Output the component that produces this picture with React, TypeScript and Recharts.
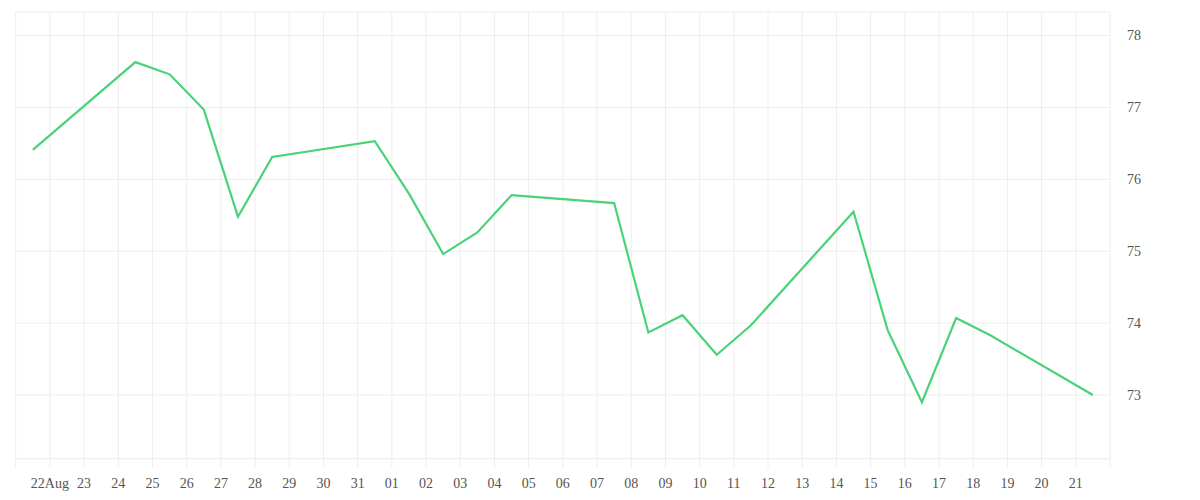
// App.tsx
// Daily line on a light grid with the price scale on the right. The x axis is a
// day index: ticks sit on the grid lines and each point falls mid-day.

import { LineChart, Line, XAxis, YAxis, CartesianGrid } from "recharts";

// position of each point, in days from the first grid line
const dayPos = [
  0.5, 3.5, 4.5, 5.5, 6.5, 7.5, 10.5, 11.5, 12.5, 13.5, 14.5, 17.5, 18.5, 19.5,
  20.5, 21.5, 24.5, 25.5, 26.5, 27.5, 28.5, 31.5,
];

const values = [
  76.41, 77.63, 77.46, 76.97, 75.48, 76.31, 76.53, 75.8, 74.96, 75.26, 75.78,
  75.67, 73.87, 74.11, 73.56, 73.97, 75.55, 73.9, 72.9, 74.07, 73.83, 73.0,
];

// one label per grid line (0..32); the two end lines have none
const xTickLabels = [
  "", "22Aug", "23", "24", "25", "26", "27", "28", "29", "30", "31",
  "01", "02", "03", "04", "05", "06", "07", "08", "09", "10", "11",
  "12", "13", "14", "15", "16", "17", "18", "19", "20", "21", "",
];

const yTicks = [73, 74, 75, 76, 77, 78];

const data = dayPos.map((d, i) => ({ d, v: values[i] }));
const xTicks = xTickLabels.map((_, i) => i);

const GRID = "#eeeeee";
const tickStyle = {
  fontSize: 14,
  fontFamily: "'Liberation Serif', serif",
  fill: "#555",
};

export default function App() {
  return (
    <div
      style={{
        position: "absolute",
        left: 0,
        top: 0,
        width: 1200,
        height: 500,
        background: "#fff",
      }}
    >
      <LineChart
        width={1200}
        height={500}
        data={data}
        margin={{ top: 12, right: 0, left: 15.7, bottom: 0 }}
      >
        <CartesianGrid stroke={GRID} strokeWidth={1} />
        <XAxis
          dataKey="d"
          type="number"
          domain={[0, 32]}
          ticks={xTicks}
          interval={0}
          tickFormatter={(v) => xTickLabels[v as number] ?? ""}
          height={41.3}
          axisLine={{ stroke: GRID }}
          tickLine={{ stroke: GRID }}
          tickSize={9.3}
          tickMargin={10.4}
          tick={tickStyle}
        />
        <YAxis
          orientation="right"
          type="number"
          domain={[72.114, 78.327]}
          ticks={yTicks}
          allowDataOverflow
          width={90}
          axisLine={false}
          tickLine={false}
          tickSize={0}
          tickMargin={17}
          tick={{ ...tickStyle, textAnchor: "start" }}
        />
        <Line
          type="linear"
          dataKey="v"
          stroke="#4ad27b"
          strokeWidth={2.2}
          dot={false}
          activeDot={false}
          isAnimationActive={false}
        />
      </LineChart>
    </div>
  );
}
